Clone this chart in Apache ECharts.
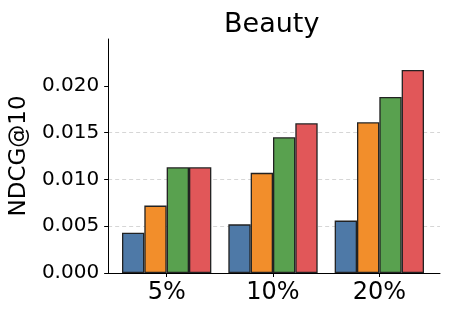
<!DOCTYPE html>
<html><head><meta charset="utf-8">
<script src="https://cdn.jsdelivr.net/npm/echarts@6/dist/echarts.min.js"></script>
<style>html,body{margin:0;padding:0;background:#fff}#c{width:451px;height:316px}</style>
</head><body><div id="c"></div>
<script>
const categories = ['5%', '10%', '20%'];
const seriesA = [0.0043, 0.0052, 0.0056];
const seriesB = [0.0072, 0.0107, 0.0161];
const seriesC = [0.0113, 0.0145, 0.0188];
const seriesD = [0.0113, 0.0160, 0.0217];
const yTicks = [0, 0.005, 0.010, 0.015, 0.020];
const colors = ['#4e79a7', '#f28e2b', '#59a14f', '#e15759'];

const font = 'DejaVu Sans';
const chart = echarts.init(document.getElementById('c'), null, {renderer: 'canvas'});
const mk = (d, i) => ({
  type: 'bar', data: d, xAxisIndex: 1, yAxisIndex: 1,
  barGap: '0%', barCategoryGap: '16%',
  itemStyle: {color: colors[i], borderColor: '#222', borderWidth: 1.3},
  emphasis: {disabled: true}
});
chart.setOption({
  animation: false,
  title: {text: 'Beauty', left: 219, top: 6,
    textStyle: {fontFamily: font, fontSize: 27, fontWeight: 'normal', color: '#000'}},
  grid: [
    {left: 106, right: 11, top: 39, bottom: 43, containLabel: false},
    {left: 113.5, right: 18.5, top: 39, bottom: 43, containLabel: false}
  ],
  xAxis: [
    {type: 'value', gridIndex: 0, min: 0, max: 1, axisLine: {show: true, lineStyle: {color: '#000', width: 1}},
      axisTick: {show: false}, axisLabel: {show: false}, splitLine: {show: false}},
    {type: 'category', gridIndex: 1, data: categories, boundaryGap: true,
      axisLine: {show: false},
      axisTick: {show: true, alignWithLabel: true, length: 4, lineStyle: {color: '#000'}},
      axisLabel: {fontFamily: font, fontSize: 24, color: '#000', margin: 8}}
  ],
  yAxis: [
    {type: 'value', gridIndex: 0, min: 0, max: 0.025, interval: 0.005,
      name: 'NDCG@10', nameLocation: 'middle', nameGap: 67,
      nameTextStyle: {fontFamily: font, fontSize: 23, color: '#000'},
      axisLine: {show: true, lineStyle: {color: '#000', width: 1}},
      axisTick: {show: true, length: 4, customValues: yTicks, lineStyle: {color: '#000'}},
      axisLabel: {fontFamily: font, fontSize: 20, color: '#000', margin: 9, customValues: yTicks,
        formatter: v => v.toFixed(3)},
      splitLine: {show: true, showMinLine: false, showMaxLine: false,
        lineStyle: {color: '#ccc', type: [4, 3], width: 0.8}}},
    {type: 'value', gridIndex: 1, min: 0, max: 0.025, interval: 0.005, show: false,
      splitLine: {show: false}}
  ],
  series: [mk(seriesA, 0), mk(seriesB, 1), mk(seriesC, 2), mk(seriesD, 3)]
});
</script></body></html>
